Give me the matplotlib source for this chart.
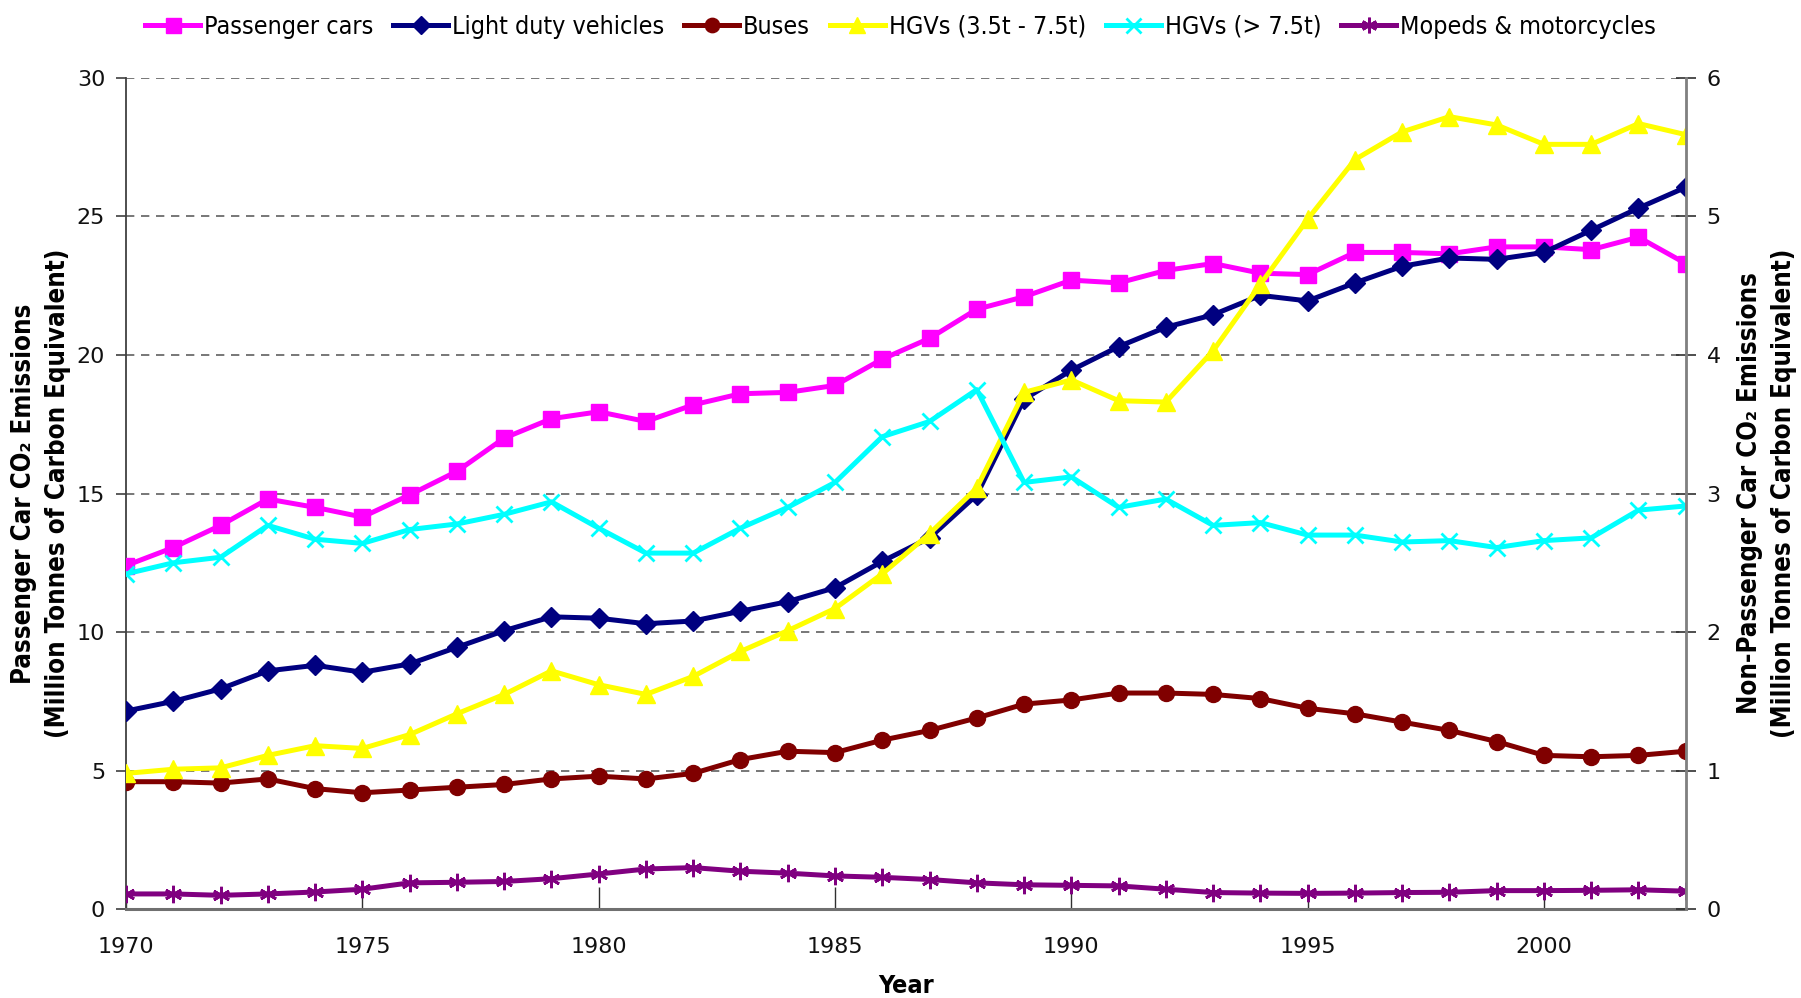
import matplotlib
matplotlib.use("Agg")
import matplotlib.pyplot as plt
from matplotlib import font_manager as fm
import numpy as np

years = list(range(1970, 2004))

passenger_cars = [12.4, 13.05, 13.85, 14.8, 14.5, 14.15, 14.95, 15.8, 17.0, 17.7,
                  17.95, 17.6, 18.2, 18.6, 18.65, 18.9, 19.85, 20.6, 21.65, 22.1,
                  22.7, 22.6, 23.05, 23.3, 22.95, 22.9, 23.7, 23.7, 23.65, 23.9,
                  23.9, 23.8, 24.25, 23.3]

light_duty = [1.43, 1.50, 1.59, 1.72, 1.76, 1.71, 1.77, 1.89, 2.01, 2.11,
              2.10, 2.06, 2.08, 2.15, 2.22, 2.32, 2.51, 2.68, 2.99, 3.68,
              3.89, 4.06, 4.20, 4.29, 4.43, 4.39, 4.52, 4.64, 4.70, 4.69,
              4.74, 4.90, 5.06, 5.21]

buses = [0.92, 0.92, 0.91, 0.94, 0.87, 0.84, 0.86, 0.88, 0.90, 0.94,
         0.96, 0.94, 0.98, 1.08, 1.14, 1.13, 1.22, 1.29, 1.38, 1.48,
         1.51, 1.56, 1.56, 1.55, 1.52, 1.45, 1.41, 1.35, 1.29, 1.21,
         1.11, 1.10, 1.11, 1.14]

hgv_small = [0.98, 1.01, 1.02, 1.11, 1.18, 1.16, 1.26, 1.41, 1.55, 1.72,
             1.62, 1.55, 1.68, 1.86, 2.01, 2.17, 2.42, 2.71, 3.04, 3.73,
             3.82, 3.67, 3.66, 4.03, 4.51, 4.98, 5.41, 5.61, 5.72, 5.66,
             5.52, 5.52, 5.67, 5.59]

hgv_large = [2.42, 2.50, 2.54, 2.77, 2.67, 2.64, 2.74, 2.78, 2.85, 2.94,
             2.75, 2.57, 2.57, 2.75, 2.90, 3.08, 3.41, 3.52, 3.75, 3.08,
             3.12, 2.90, 2.96, 2.77, 2.79, 2.70, 2.70, 2.65, 2.66, 2.61,
             2.66, 2.68, 2.88, 2.91]

mopeds = [0.11, 0.11, 0.10, 0.11, 0.124, 0.144, 0.19, 0.194, 0.20, 0.22,
          0.254, 0.29, 0.30, 0.274, 0.26, 0.24, 0.23, 0.214, 0.19, 0.176,
          0.172, 0.168, 0.144, 0.12, 0.116, 0.114, 0.116, 0.12, 0.122, 0.134,
          0.134, 0.136, 0.14, 0.13]

labels = ["Passenger cars", "Light duty vehicles", "Buses", "HGVs (3.5t - 7.5t)",
          "HGVs (> 7.5t)", "Mopeds & motorcycles"]
colors = ["#FF00FF", "#000080", "#800000", "#FFFF00", "#00FFFF", "#800080"]

x_ticks = [1970, 1975, 1980, 1985, 1990, 1995, 2000]
left_ticks = [0, 5, 10, 15, 20, 25, 30]
right_ticks = [0, 1, 2, 3, 4, 5, 6]

# look for a condensed sans face
have_cond = any(f.name == "DejaVu Sans" and f.stretch == "condensed"
                for f in fm.fontManager.ttflist)

def narrow_props(size, bold=False):
    if have_cond:
        return fm.FontProperties(family="DejaVu Sans", stretch="condensed",
                                 weight="bold" if bold else "normal", size=size)
    return fm.FontProperties(family="Liberation Sans", weight="bold" if bold else "normal",
                             size=size)

tickfont = ["DejaVu Sans"]

fig = plt.figure(figsize=(18.01, 9.98), dpi=100)
ax = fig.add_axes([0.070, 0.089, 0.866, 0.833])
ax2 = ax.twinx()

lw = 3.6
h0, = ax.plot(years, passenger_cars, color=colors[0], lw=lw, marker="s", ms=12,
              label=labels[0], zorder=3)
h1, = ax2.plot(years, light_duty, color=colors[1], lw=lw, marker="D", ms=10, label=labels[1])
h2, = ax2.plot(years, buses, color=colors[2], lw=lw, marker="o", ms=11.5, label=labels[2])
h3, = ax2.plot(years, hgv_small, color=colors[3], lw=lw, marker="^", ms=13.5, label=labels[3])
h4, = ax2.plot(years, hgv_large, color=colors[4], lw=lw, marker="x", ms=12, mew=2, label=labels[4])
h5, = ax2.plot(years, mopeds, color=colors[5], lw=lw, marker=(6, 2, 0), ms=12.5, mew=2, label=labels[5])

ax.set_xlim(1970, 2003)
ax.set_ylim(0, 30)
ax2.set_ylim(0, 6)
ax.set_xticks(x_ticks)
ax.set_yticks(left_ticks)
ax2.set_yticks(right_ticks)

ax.grid(axis="y", linestyle=(0, (5, 4)), color="#606060", lw=1.2)
ax.set_axisbelow(True)

for a in (ax, ax2):
    a.spines["top"].set_visible(False)
ax.spines["left"].set_color("#404040")
ax.spines["left"].set_linewidth(1.3)
ax.spines["bottom"].set_color("#707070")
ax.spines["bottom"].set_linewidth(2.2)
ax2.spines["right"].set_color("#808080")
ax2.spines["right"].set_linewidth(2.0)
ax2.spines["left"].set_visible(False)
ax2.spines["bottom"].set_visible(False)

ax.tick_params(axis="x", direction="in", length=16, width=1, color="#303030",
               labelsize=16, pad=20)
ax.tick_params(axis="y", direction="out", length=7, width=1.2, color="#404040",
               labelsize=16, pad=8)
ax2.tick_params(axis="y", direction="inout", length=14, width=1.2, color="#303030",
                labelsize=16, pad=8)
for lab in ax.get_xticklabels() + ax.get_yticklabels() + ax2.get_yticklabels():
    lab.set_family(tickfont)
    lab.set_color("#111111")

ax.set_xlabel("Year", fontproperties=narrow_props(18, True), labelpad=12)
ax.set_ylabel("Passenger Car CO\u2082 Emissions\n(Million Tonnes of Carbon Equivalent)",
              fontproperties=narrow_props(18.5, True), labelpad=4, linespacing=1.4)
ax2.set_ylabel("Non-Passenger Car CO\u2082 Emissions\n(Million Tonnes of Carbon Equivalent)",
               fontproperties=narrow_props(18.5, True), labelpad=12, linespacing=1.4)

handles = [h0, h1, h2, h3, h4, h5]
fig.legend(handles, labels, loc="upper center", bbox_to_anchor=(0.5, 1.008), ncol=6,
           frameon=False, prop=narrow_props(18), handlelength=2.2,
           handletextpad=0.15, columnspacing=0.8, markerscale=0.9)

fig.savefig("out.png", dpi=100)
